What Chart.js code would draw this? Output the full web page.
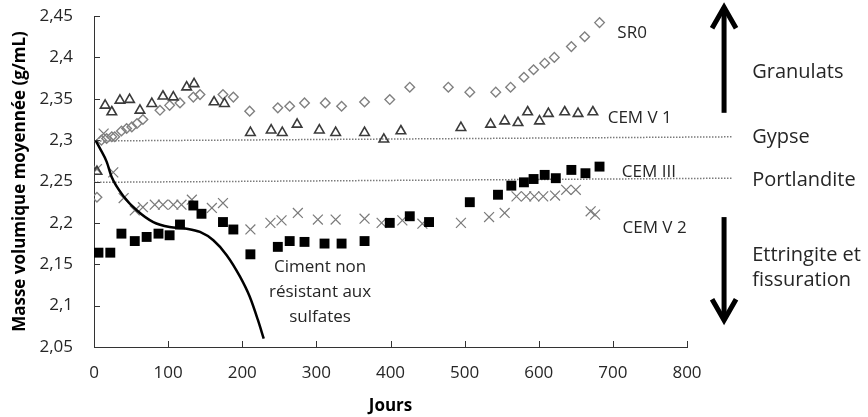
<!DOCTYPE html>
<html>

<head>
    <meta charset="utf-8">
    <script src="https://cdn.jsdelivr.net/npm/chart.js@4"></script>
    <style>
        html, body { margin: 0; padding: 0; background: #fff; }
    </style>
</head>

<body>
    <canvas id="wykres" width="868" height="417" style="width: 868px; height: 417px;"></canvas>
    <script>
        // jours / masse volumique for each series
        const sr0Jours = [4, 10, 17, 24, 28, 37, 44, 51, 58, 66, 89, 102, 116, 134, 143, 174, 188, 210, 248, 264, 284, 312, 334, 365, 399, 426, 478, 507, 542, 562, 580, 593, 608, 621, 644, 662, 682];
        const sr0Masse = [2.231, 2.300, 2.302, 2.304, 2.304, 2.311, 2.314, 2.316, 2.320, 2.325, 2.336, 2.342, 2.345, 2.352, 2.355, 2.355, 2.352, 2.335, 2.339, 2.341, 2.345, 2.345, 2.341, 2.346, 2.349, 2.364, 2.364, 2.358, 2.358, 2.364, 2.376, 2.385, 2.393, 2.400, 2.413, 2.425, 2.442];

        const cemV1Jours = [4, 15, 24, 35, 48, 62, 78, 93, 107, 125, 135, 162, 176, 211, 239, 254, 274, 304, 326, 365, 391, 414, 495, 535, 554, 572, 585, 601, 613, 635, 653, 673];
        const cemV1Masse = [2.262, 2.342, 2.334, 2.348, 2.349, 2.336, 2.344, 2.353, 2.352, 2.364, 2.368, 2.346, 2.344, 2.309, 2.312, 2.309, 2.319, 2.312, 2.309, 2.309, 2.301, 2.311, 2.315, 2.319, 2.323, 2.321, 2.334, 2.323, 2.332, 2.334, 2.332, 2.334];

        const cemV2Jours = [4, 13, 26, 40, 55, 66, 82, 93, 107, 118, 132, 159, 174, 211, 238, 253, 275, 302, 326, 365, 388, 416, 443, 495, 533, 554, 570, 583, 594, 606, 622, 637, 650, 670, 676];
        const cemV2Masse = [2.265, 2.308, 2.261, 2.230, 2.215, 2.219, 2.222, 2.222, 2.222, 2.222, 2.228, 2.218, 2.224, 2.192, 2.200, 2.203, 2.212, 2.204, 2.204, 2.205, 2.200, 2.203, 2.199, 2.200, 2.207, 2.212, 2.232, 2.232, 2.232, 2.232, 2.233, 2.240, 2.240, 2.214, 2.210];

        const cemIIIJours = [6, 22, 37, 55, 71, 87, 102, 116, 134, 145, 174, 188, 211, 248, 264, 284, 311, 334, 365, 399, 426, 452, 507, 545, 563, 580, 593, 608, 623, 644, 663, 682];
        const cemIIIMasse = [2.164, 2.164, 2.187, 2.178, 2.183, 2.187, 2.185, 2.198, 2.221, 2.211, 2.201, 2.192, 2.162, 2.171, 2.178, 2.177, 2.175, 2.175, 2.178, 2.200, 2.208, 2.201, 2.225, 2.234, 2.245, 2.249, 2.253, 2.258, 2.254, 2.264, 2.260, 2.268];

        // "Ciment non résistant aux sulfates" curve
        const cimentJours = [2, 8, 17, 24, 40, 58, 80, 102, 125, 143, 161, 179, 197, 210, 221, 229];
        const cimentMasse = [2.300, 2.290, 2.274, 2.255, 2.232, 2.215, 2.201, 2.195, 2.193, 2.189, 2.179, 2.161, 2.135, 2.111, 2.083, 2.060];

        // reference levels (gypse, portlandite)
        const niveauJours = [0, 861];
        const gypseMasse = [2.299, 2.304];
        const portlanditeMasse = [2.249, 2.254];

        const yTickLabels = ["2,05", "2,1", "2,15", "2,2", "2,25", "2,3", "2,35", "2,4", "2,45"];
        const xTickLabels = ["0", "100", "200", "300", "400", "500", "600", "700", "800"];

        function punkty(xs, ys) {
            return xs.map((x, i) => ({ x: x, y: ys[i] }));
        }

        const FONT = "'Open Sans', 'Noto Sans', sans-serif";
        const TEXT = "#262626";

        // text annotations, placed in data units
        const etiquettes = [
            { t: "SR0", x: 706, y: 2.429, size: 17 },
            { t: "CEM V 1", x: 693, y: 2.327, size: 17 },
            { t: "CEM III", x: 712, y: 2.261, size: 17 },
            { t: "CEM V 2", x: 713, y: 2.194, size: 17 },
            { t: "Granulats", x: 888, y: 2.382, size: 20 },
            { t: "Gypse", x: 888, y: 2.304, size: 20 },
            { t: "Portlandite", x: 888, y: 2.252, size: 20 },
            { t: "Ettringite et", x: 888, y: 2.161, size: 20 },
            { t: "fissuration", x: 888, y: 2.131, size: 20 },
            { t: "Ciment non", x: 305, y: 2.147, size: 17, center: true },
            { t: "résistant aux", x: 305, y: 2.116, size: 17, center: true },
            { t: "sulfates", x: 305, y: 2.086, size: 17, center: true }
        ];
        const fleches = [
            { x: 850, from: 2.333, to: 2.463 },
            { x: 850, from: 2.207, to: 2.080 }
        ];

        const dekor = {
            id: "dekor",
            afterDraw(chart) {
                const c = chart.ctx;
                const sx = chart.scales.x, sy = chart.scales.y;
                const a = chart.chartArea;
                c.save();
                // inside tick marks
                c.strokeStyle = "#333";
                c.lineWidth = 1;
                c.beginPath();
                sy.ticks.forEach(t => {
                    const py = Math.round(sy.getPixelForValue(t.value)) + 0.5;
                    c.moveTo(a.left, py); c.lineTo(a.left + 6, py);
                });
                sx.ticks.forEach(t => {
                    const px = Math.round(sx.getPixelForValue(t.value)) + 0.5;
                    c.moveTo(px, a.bottom); c.lineTo(px, a.bottom - 6);
                });
                c.stroke();

                // labels
                c.fillStyle = TEXT;
                c.textBaseline = "middle";
                etiquettes.forEach(e => {
                    c.font = e.size + "px " + FONT;
                    c.textAlign = e.center ? "center" : "left";
                    c.fillText(e.t, sx.getPixelForValue(e.x), sy.getPixelForValue(e.y));
                });

                // arrows
                c.strokeStyle = "#000";
                c.lineWidth = 5;
                fleches.forEach(f => {
                    const px = sx.getPixelForValue(f.x);
                    const y0 = sy.getPixelForValue(f.from);
                    const y1 = sy.getPixelForValue(f.to);
                    const dir = y1 < y0 ? 1 : -1;
                    c.beginPath();
                    c.moveTo(px, y0); c.lineTo(px, y1 + dir * 2);
                    c.stroke();
                    c.beginPath();
                    c.moveTo(px - 12, y1 + dir * 23);
                    c.lineTo(px, y1 + dir * 2);
                    c.lineTo(px + 12, y1 + dir * 23);
                    c.stroke();
                });
                c.restore();
            }
        };

        const dane = {
            datasets: [
                {
                    type: "line",
                    label: "Ciment non résistant aux sulfates",
                    data: punkty(cimentJours, cimentMasse),
                    borderColor: "#000",
                    borderWidth: 2.5,
                    pointRadius: 0,
                    tension: 0.4,
                    cubicInterpolationMode: "monotone",
                    fill: false
                },
                {
                    label: "CEM III",
                    data: punkty(cemIIIJours, cemIIIMasse),
                    pointStyle: "rect",
                    pointRadius: 7,
                    backgroundColor: "#000",
                    borderColor: "#000",
                    borderWidth: 0
                },
                {
                    label: "CEM V 1",
                    data: punkty(cemV1Jours, cemV1Masse),
                    pointStyle: "triangle",
                    pointRadius: 5.5,
                    backgroundColor: "rgba(0,0,0,0)",
                    borderColor: "#3a3a3a",
                    borderWidth: 1.6
                },
                {
                    label: "SR0",
                    data: punkty(sr0Jours, sr0Masse),
                    pointStyle: "rectRot",
                    pointRadius: 4.8,
                    backgroundColor: "rgba(0,0,0,0)",
                    borderColor: "#808080",
                    borderWidth: 1.4
                },
                {
                    label: "CEM V 2",
                    data: punkty(cemV2Jours, cemV2Masse),
                    pointStyle: "crossRot",
                    pointRadius: 7,
                    borderColor: "#7a7a7a",
                    borderWidth: 1.2
                },
                {
                    type: "line",
                    label: "Gypse",
                    data: punkty(niveauJours, gypseMasse),
                    borderColor: "#7a7a7a",
                    borderWidth: 1.5,
                    borderDash: [1.5, 1.5],
                    pointRadius: 0,
                    clip: false
                },
                {
                    type: "line",
                    label: "Portlandite",
                    data: punkty(niveauJours, portlanditeMasse),
                    borderColor: "#7a7a7a",
                    borderWidth: 1.5,
                    borderDash: [1.5, 1.5],
                    pointRadius: 0,
                    clip: false
                }
            ]
        };

        const ctx = document.getElementById("wykres").getContext("2d");
        const wykres = new Chart(ctx, {
            type: "scatter",
            data: dane,
            plugins: [dekor],
            options: {
                responsive: false,
                animation: false,
                devicePixelRatio: 1,
                layout: { padding: { top: 16, right: 181, bottom: 0, left: 0 } },
                plugins: { legend: { display: false }, tooltip: { enabled: false } },
                scales: {
                    x: {
                        type: "linear",
                        min: 0,
                        max: 800,
                        afterFit(s) { s.height = 70; },
                        afterBuildTicks(s) { s.ticks = xTickLabels.map(v => ({ value: +v })); },
                        ticks: {
                            stepSize: 100,
                            padding: 0,
                            color: TEXT,
                            font: { family: FONT, size: 17 },
                            callback: (v, i) => xTickLabels[i]
                        },
                        grid: { display: false, drawTicks: true, tickLength: 16 },
                        border: { display: true, color: "#333", width: 1 },
                        title: {
                            display: true,
                            text: "Jours",
                            color: "#000",
                            font: { family: FONT, size: 17, weight: "bold" },
                            padding: { top: 1, bottom: 1 }
                        }
                    },
                    y: {
                        type: "linear",
                        min: 2.05,
                        max: 2.45,
                        afterFit(s) { s.width = 94; },
                        afterBuildTicks(s) { s.ticks = yTickLabels.map(v => ({ value: +v.replace(",", ".") })); },
                        ticks: {
                            stepSize: 0.05,
                            padding: 0,
                            color: TEXT,
                            font: { family: FONT, size: 17 },
                            callback: (v, i) => yTickLabels[i]
                        },
                        grid: { display: false, drawTicks: true, tickLength: 21 },
                        border: { display: true, color: "#333", width: 1 },
                        title: {
                            display: true,
                            text: "Masse volumique moyennée (g/mL)",
                            color: "#000",
                            font: { family: FONT, size: 17, weight: "bold" },
                            padding: { top: 10, bottom: 10 }
                        }
                    }
                }
            }
        });
    </script>
</body>

</html>
